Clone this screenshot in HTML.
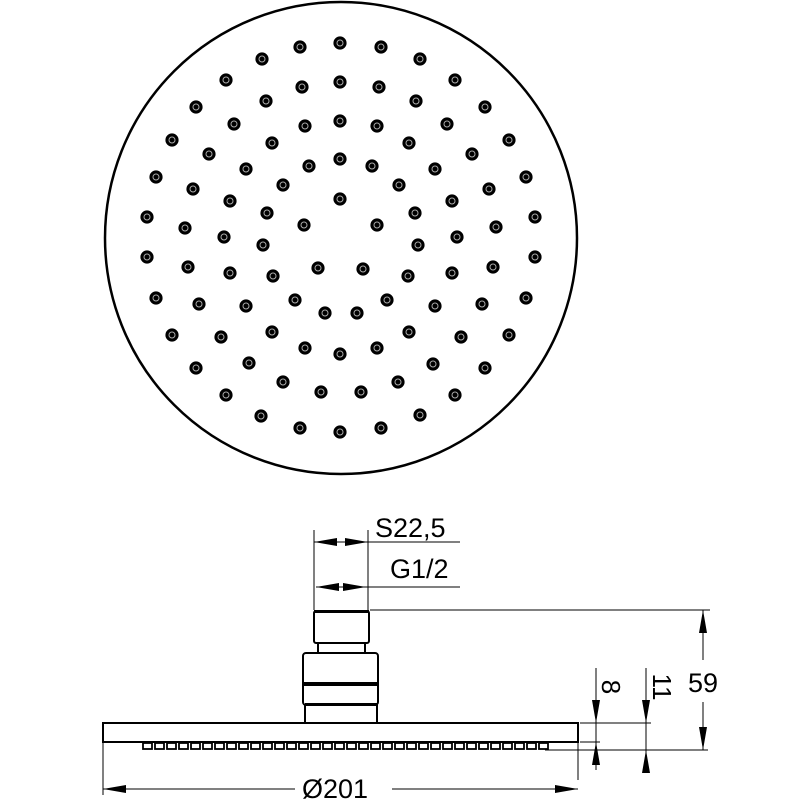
<!DOCTYPE html>
<html><head><meta charset="utf-8"><style>html,body{margin:0;padding:0;background:#fff}svg{display:block}</style></head>
<body>
<svg width="800" height="800" viewBox="0 0 800 800" xmlns="http://www.w3.org/2000/svg" font-family="Liberation Sans, sans-serif">
<defs>
<g id="h"><circle r="6.6" fill="#000"/><circle r="3" fill="none" stroke="#aaa" stroke-width="1"/></g>
<rect id="n" width="9" height="6" fill="#fff" stroke="#000" stroke-width="1.8"/>
</defs>
<circle cx="341" cy="238" r="236" fill="none" stroke="#000" stroke-width="2.5"/>
<g>
<use href="#h" x="300" y="47"/><use href="#h" x="340" y="43"/><use href="#h" x="262" y="59"/><use href="#h" x="226" y="80"/><use href="#h" x="302" y="87"/><use href="#h" x="340" y="82"/><use href="#h" x="266" y="101"/><use href="#h" x="196" y="107"/><use href="#h" x="234" y="124"/><use href="#h" x="305" y="126"/><use href="#h" x="340" y="121"/><use href="#h" x="172" y="140"/><use href="#h" x="272" y="143"/><use href="#h" x="209" y="154"/><use href="#h" x="246" y="169"/><use href="#h" x="309" y="166"/><use href="#h" x="340" y="159"/><use href="#h" x="156" y="177"/><use href="#h" x="193" y="189"/><use href="#h" x="283" y="185"/><use href="#h" x="230" y="201"/><use href="#h" x="340" y="199"/><use href="#h" x="147" y="217"/><use href="#h" x="185" y="228"/><use href="#h" x="267" y="213"/><use href="#h" x="224" y="237"/><use href="#h" x="304" y="225"/><use href="#h" x="263" y="245"/><use href="#h" x="147" y="257"/>
<use href="#h" x="381" y="47"/><use href="#h" x="420" y="59"/><use href="#h" x="455" y="80"/><use href="#h" x="379" y="87"/><use href="#h" x="416" y="101"/><use href="#h" x="485" y="107"/><use href="#h" x="377" y="126"/><use href="#h" x="447" y="124"/><use href="#h" x="509" y="140"/><use href="#h" x="409" y="143"/><use href="#h" x="472" y="154"/><use href="#h" x="372" y="166"/><use href="#h" x="435" y="169"/><use href="#h" x="526" y="177"/><use href="#h" x="399" y="185"/><use href="#h" x="489" y="189"/><use href="#h" x="452" y="201"/><use href="#h" x="535" y="217"/><use href="#h" x="415" y="213"/><use href="#h" x="377" y="225"/><use href="#h" x="496" y="227"/><use href="#h" x="457" y="237"/><use href="#h" x="418" y="245"/><use href="#h" x="535" y="257"/>
<use href="#h" x="188" y="267"/><use href="#h" x="230" y="273"/><use href="#h" x="273" y="276"/><use href="#h" x="318" y="268"/><use href="#h" x="156" y="298"/><use href="#h" x="199" y="304"/><use href="#h" x="246" y="306"/><use href="#h" x="295" y="300"/><use href="#h" x="325" y="313"/><use href="#h" x="172" y="335"/><use href="#h" x="221" y="337"/><use href="#h" x="272" y="332"/><use href="#h" x="305" y="348"/><use href="#h" x="340" y="354"/><use href="#h" x="196" y="368"/><use href="#h" x="249" y="363"/><use href="#h" x="283" y="382"/><use href="#h" x="321" y="392"/><use href="#h" x="226" y="395"/><use href="#h" x="261" y="416"/><use href="#h" x="300" y="428"/><use href="#h" x="340" y="432"/>
<use href="#h" x="363" y="269"/><use href="#h" x="408" y="276"/><use href="#h" x="452" y="273"/><use href="#h" x="493" y="267"/><use href="#h" x="387" y="300"/><use href="#h" x="357" y="313"/><use href="#h" x="435" y="306"/><use href="#h" x="482" y="304"/><use href="#h" x="526" y="298"/><use href="#h" x="409" y="332"/><use href="#h" x="461" y="337"/><use href="#h" x="509" y="335"/><use href="#h" x="377" y="348"/><use href="#h" x="433" y="364"/><use href="#h" x="485" y="368"/><use href="#h" x="398" y="382"/><use href="#h" x="361" y="392"/><use href="#h" x="455" y="395"/><use href="#h" x="420" y="415"/><use href="#h" x="381" y="428"/>
</g>

<g fill="none" stroke="#000" stroke-width="1">
<line x1="314" y1="530" x2="314" y2="610"/>
<line x1="368" y1="530" x2="368" y2="610"/>
<line x1="314" y1="542" x2="460" y2="542"/>
<line x1="316" y1="587" x2="460" y2="587"/>
<line x1="370" y1="610" x2="710" y2="610"/>
<line x1="703" y1="610" x2="703" y2="660"/>
<line x1="703" y1="702" x2="703" y2="750"/>
<line x1="545" y1="750" x2="708" y2="750"/>
<line x1="580" y1="723" x2="651" y2="723"/>
<line x1="580" y1="742" x2="600" y2="742"/>
<line x1="596" y1="668" x2="596" y2="770"/>
<line x1="646" y1="668" x2="646" y2="773"/>
<line x1="103" y1="742" x2="103" y2="795"/>
<line x1="578" y1="742" x2="578" y2="780"/>
<line x1="103" y1="789" x2="295" y2="789"/>
<line x1="392" y1="789" x2="578" y2="789"/>
</g>
<g fill="#000">
<polygon points="314,542 337,538 337,546"/><polygon points="368,542 345,538 345,546"/>
<polygon points="316,587 339,583 339,591"/><polygon points="366,587 343,583 343,591"/>
<polygon points="703,610 699,633 707,633"/><polygon points="703,750 699,727 707,727"/>
<polygon points="596,723 592,700 600,700"/><polygon points="596,742 592,765 600,765"/>
<polygon points="646,723 642,700 650,700"/><polygon points="646,750 642,773 650,773"/>
<polygon points="103,789 126,785 126,793"/><polygon points="578,789 555,785 555,793"/>
</g>
<g fill="#fff" stroke="#000" stroke-width="2">
<rect x="314" y="611" width="55" height="32" rx="2"/>
<rect x="318" y="643" width="47" height="10"/>
<rect x="303" y="653" width="75" height="52" rx="3"/>
<rect x="305" y="705" width="72" height="18"/>
<rect x="103" y="723" width="475" height="19"/>
</g>
<rect x="314" y="610" width="55" height="3" fill="#000"/>
<rect x="303" y="682" width="75" height="4" fill="#000"/>
<rect x="305" y="703" width="72" height="3" fill="#000"/>
<g>
<use href="#n" x="143" y="743"/><use href="#n" x="155" y="743"/><use href="#n" x="167" y="743"/><use href="#n" x="179" y="743"/><use href="#n" x="191" y="743"/><use href="#n" x="203" y="743"/><use href="#n" x="215" y="743"/><use href="#n" x="227" y="743"/><use href="#n" x="239" y="743"/><use href="#n" x="251" y="743"/><use href="#n" x="263" y="743"/><use href="#n" x="275" y="743"/><use href="#n" x="287" y="743"/><use href="#n" x="299" y="743"/><use href="#n" x="311" y="743"/><use href="#n" x="323" y="743"/><use href="#n" x="335" y="743"/><use href="#n" x="347" y="743"/><use href="#n" x="359" y="743"/><use href="#n" x="371" y="743"/><use href="#n" x="383" y="743"/><use href="#n" x="395" y="743"/><use href="#n" x="407" y="743"/><use href="#n" x="419" y="743"/><use href="#n" x="431" y="743"/><use href="#n" x="443" y="743"/><use href="#n" x="455" y="743"/><use href="#n" x="467" y="743"/><use href="#n" x="479" y="743"/><use href="#n" x="491" y="743"/><use href="#n" x="503" y="743"/><use href="#n" x="515" y="743"/><use href="#n" x="527" y="743"/><use href="#n" x="539" y="743"/>
</g>
<g font-size="27" fill="#000">
<text x="375" y="537">S22,5</text>
<text x="390" y="578">G1/2</text>
<text x="688" y="692">59</text>
<text x="302" y="798">Ø201</text>
<text transform="translate(602,687) rotate(90)" text-anchor="middle" font-size="26">8</text>
<text transform="translate(653,687) rotate(90)" text-anchor="middle" font-size="26">11</text>
</g>
</svg>
</body></html>
